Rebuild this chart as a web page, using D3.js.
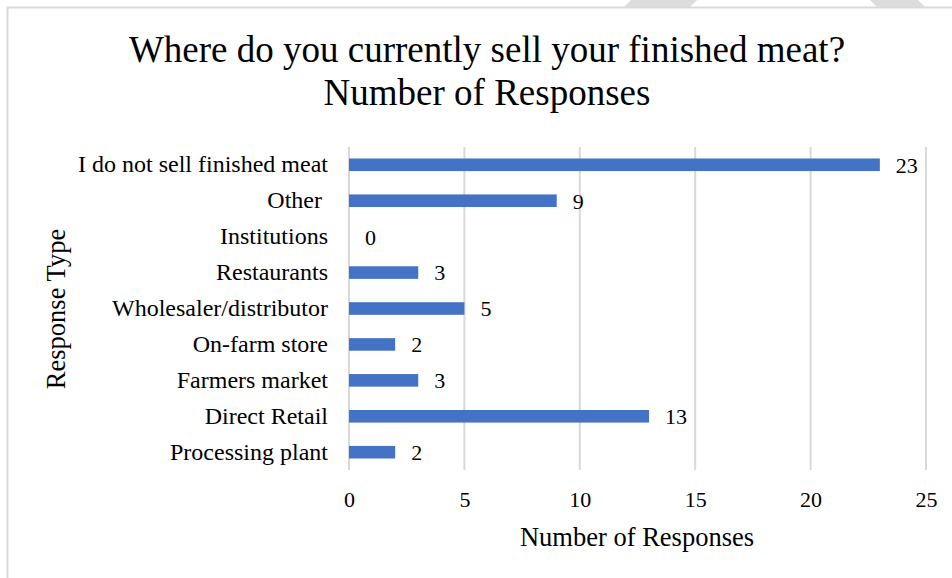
<!DOCTYPE html>
<html>
<head>
<meta charset="utf-8">
<script src="https://cdn.jsdelivr.net/npm/d3@7"></script>
<style>
  body { margin: 0; background: #fff; }
  text { font-family: "Liberation Serif", "Times New Roman", serif; fill: #000; }
</style>
</head>
<body>
<div class="chart"></div>
<script>
var svgWidth = 952;
var svgHeight = 578;

// data, top to bottom as in the chart
var categories = ["I do not sell finished meat", "Other ", "Institutions", "Restaurants",
  "Wholesaler/distributor", "On-farm store", "Farmers market", "Direct Retail", "Processing plant"];
var responses = [23, 9, 0, 3, 5, 2, 3, 13, 2];
var xTicks = [0, 5, 10, 15, 20, 25];

var margin = { top: 147, right: 26, bottom: 108, left: 349 };
var width = svgWidth - margin.left - margin.right;
var height = svgHeight - margin.top - margin.bottom;

var svg = d3.select(".chart")
  .append("svg")
  .attr("width", svgWidth)
  .attr("height", svgHeight);

// frame lines and the grey stripes at the top edge
svg.append("path")
  .attr("d", "M7.5,578 V7.5 H952")
  .attr("fill", "none")
  .attr("stroke", "#d9d9d9")
  .attr("stroke-width", 2);
svg.append("polygon").attr("points", "631,0 697,0 690,7 624,7").attr("fill", "#dcdcdc");
svg.append("polygon").attr("points", "870,0 918,0 925,7 877,7").attr("fill", "#dcdcdc");

var chartGroup = svg.append("g")
  .attr("transform", `translate(${margin.left}, ${margin.top})`);

var xScale = d3.scaleLinear()
  .domain([0, 25])
  .range([0, width]);

var yScale = d3.scaleBand()
  .domain(categories)
  .range([0, height])
  .paddingInner(0.65)
  .paddingOuter(0.32);

// gridlines
chartGroup.append("g")
  .selectAll("line")
  .data(xTicks)
  .enter().append("line")
  .attr("x1", d => xScale(d))
  .attr("x2", d => xScale(d))
  .attr("y1", 0)
  .attr("y2", height)
  .attr("stroke", "#d9d9d9")
  .attr("stroke-width", 2);

// x axis labels
var bottomAxis = d3.axisBottom(xScale)
  .tickValues(xTicks)
  .tickSize(0)
  .tickPadding(21);
var xAxis = chartGroup.append("g")
  .attr("transform", `translate(0, ${height})`)
  .call(bottomAxis);
xAxis.select(".domain").remove();
xAxis.selectAll("text")
  .attr("font-size", "22px");

// y axis labels
var leftAxis = d3.axisLeft(yScale)
  .tickSize(0)
  .tickPadding(21);
var yAxis = chartGroup.append("g").call(leftAxis);
yAxis.select(".domain").remove();
yAxis.selectAll("text")
  .attr("font-size", "24px")
  .style("white-space", "pre");

// bars
chartGroup.selectAll(".bar")
  .data(responses)
  .enter().append("rect")
  .attr("class", "bar")
  .attr("x", xScale(0))
  .attr("y", (d, i) => yScale(categories[i]))
  .attr("width", d => xScale(d) - xScale(0))
  .attr("height", yScale.bandwidth())
  .attr("fill", "#4472c4");

// value labels
chartGroup.selectAll(".value")
  .data(responses)
  .enter().append("text")
  .attr("class", "value")
  .attr("x", d => xScale(d) + 16)
  .attr("y", (d, i) => yScale(categories[i]) + yScale.bandwidth() / 2)
  .attr("dy", "0.36em")
  .attr("font-size", "22px")
  .text(d => d);

// titles
svg.append("text")
  .attr("x", 487)
  .attr("y", 62)
  .attr("text-anchor", "middle")
  .attr("font-size", "37px")
  .text("Where do you currently sell your finished meat?");
svg.append("text")
  .attr("x", 487)
  .attr("y", 105)
  .attr("text-anchor", "middle")
  .attr("font-size", "37px")
  .text("Number of Responses");

svg.append("text")
  .attr("x", 637)
  .attr("y", 546)
  .attr("text-anchor", "middle")
  .attr("font-size", "26.5px")
  .text("Number of Responses");

svg.append("text")
  .attr("transform", "translate(65, 309) rotate(-90)")
  .attr("text-anchor", "middle")
  .attr("font-size", "26.5px")
  .text("Response Type");
</script>
</body>
</html>
